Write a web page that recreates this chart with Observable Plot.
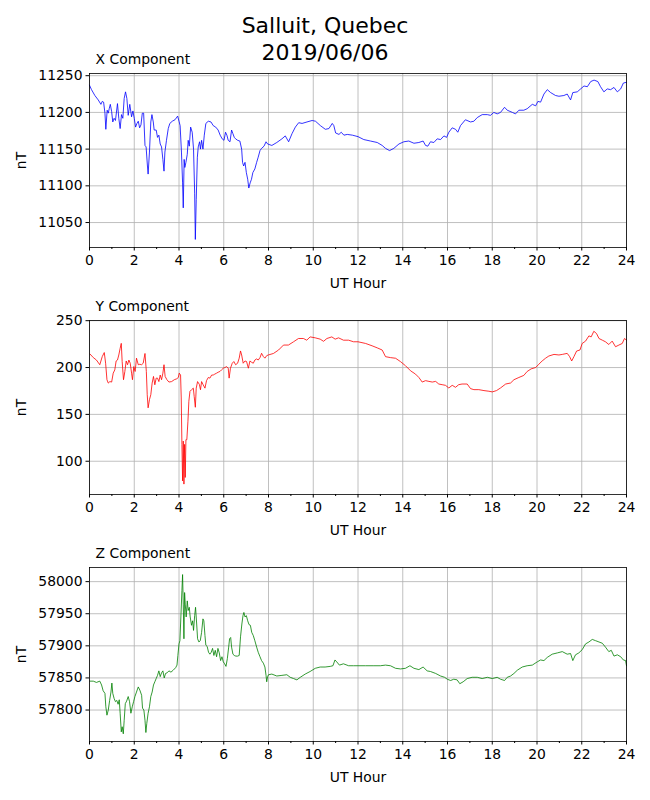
<!DOCTYPE html>
<html><head><meta charset="utf-8">
<script src="https://cdn.jsdelivr.net/npm/d3@7"></script>
<script src="https://cdn.jsdelivr.net/npm/@observablehq/plot@0.6"></script>
<style>
body{margin:0;background:#fff;font-family:"DejaVu Sans",sans-serif;}
#page{position:relative;width:650px;height:800px;background:#fff;}
.title{position:absolute;left:0;width:650px;text-align:center;font-size:22px;line-height:27px;top:12px;color:#000;z-index:5;}
.panel{position:absolute;left:0;}
</style></head><body><div id="page"><div class="title">Salluit, Quebec<br>2019/06/06</div></div>
<script>
const hourTicks = [0,2,4,6,8,10,12,14,16,18,20,22,24];
const minorHourTicks = [1,3,5,7,9,11,13,15,17,19,21,23];
const panelNames = ["X Component","Y Component","Z Component"];
const xTicksNT = [11050,11100,11150,11200,11250];
const yTicksNT = [100,150,200,250];
const zTicksNT = [57800,57850,57900,57950,58000];

// [UT hour, nT]
const xComponent = [[0,11237],[0.09,11231],[0.24,11223],[0.39,11217],[0.51,11211],[0.57,11215],[0.63,11214],[0.69,11199],[0.73,11177],[0.79,11203],[0.84,11199],[0.88,11205],[0.93,11211],[0.99,11201],[1.04,11187],[1.10,11192],[1.16,11189],[1.25,11212],[1.31,11192],[1.37,11178],[1.43,11197],[1.49,11192],[1.55,11219],[1.61,11228],[1.67,11219],[1.73,11196],[1.80,11211],[1.88,11194],[1.94,11202],[2.0,11192],[2.06,11180],[2.12,11185],[2.18,11188],[2.24,11179],[2.30,11183],[2.36,11199],[2.42,11199],[2.48,11155],[2.53,11153],[2.59,11127],[2.62,11116],[2.68,11146],[2.74,11187],[2.79,11197],[2.85,11187],[2.89,11176],[2.98,11176],[3.04,11166],[3.10,11169],[3.16,11157],[3.22,11153],[3.28,11136],[3.33,11120],[3.37,11146],[3.44,11162],[3.52,11178],[3.59,11185],[3.70,11188],[3.82,11190],[3.94,11195],[4.0,11188],[4.05,11182],[4.11,11146],[4.16,11104],[4.19,11070],[4.23,11136],[4.26,11125],[4.31,11132],[4.37,11143],[4.41,11162],[4.46,11154],[4.52,11180],[4.59,11173],[4.65,11150],[4.70,11090],[4.73,11027],[4.77,11081],[4.82,11139],[4.86,11153],[4.92,11160],[4.96,11150],[5.01,11162],[5.07,11150],[5.13,11169],[5.20,11185],[5.31,11188],[5.43,11187],[5.53,11182],[5.64,11180],[5.75,11176],[5.84,11169],[5.93,11164],[6.01,11162],[6.08,11173],[6.14,11169],[6.20,11162],[6.28,11160],[6.35,11176],[6.41,11171],[6.47,11166],[6.53,11164],[6.62,11162],[6.72,11161],[6.80,11150],[6.84,11132],[6.89,11127],[6.95,11132],[7.01,11118],[7.07,11109],[7.12,11097],[7.18,11104],[7.24,11109],[7.30,11118],[7.39,11123],[7.47,11132],[7.54,11139],[7.62,11148],[7.69,11151],[7.80,11154],[7.89,11160],[7.96,11157],[8.15,11155],[8.37,11159],[8.6,11164],[8.75,11168],[8.9,11160],[9.05,11171],[9.2,11180],[9.35,11186],[9.5,11185],[9.72,11187],[9.95,11189],[10.1,11188],[10.32,11182],[10.54,11177],[10.7,11178],[10.85,11185],[10.92,11182],[11.0,11172],[11.15,11170],[11.25,11173],[11.37,11169],[11.52,11170],[11.75,11169],[12.0,11167],[12.26,11163],[12.56,11161],[12.86,11159],[13.08,11155],[13.23,11151],[13.41,11148],[13.6,11151],[13.83,11157],[14.05,11160],[14.27,11161],[14.5,11158],[14.72,11159],[14.91,11161],[15.02,11155],[15.12,11154],[15.24,11160],[15.39,11159],[15.54,11164],[15.69,11163],[15.84,11168],[15.96,11166],[16.06,11173],[16.21,11179],[16.36,11177],[16.46,11173],[16.58,11182],[16.8,11190],[17.03,11187],[17.18,11188],[17.33,11193],[17.55,11197],[17.78,11197],[17.92,11196],[18.07,11200],[18.22,11198],[18.37,11200],[18.55,11207],[18.67,11203],[18.9,11200],[19.04,11198],[19.19,11203],[19.41,11203],[19.56,11205],[19.79,11211],[19.94,11209],[20.04,11215],[20.16,11214],[20.31,11225],[20.46,11231],[20.61,11227],[20.83,11223],[20.98,11222],[21.2,11223],[21.35,11225],[21.5,11217],[21.6,11227],[21.8,11228],[21.95,11232],[22.1,11236],[22.25,11235],[22.4,11242],[22.55,11244],[22.72,11242],[22.84,11235],[22.99,11228],[23.14,11232],[23.29,11231],[23.44,11234],[23.59,11228],[23.74,11232],[23.86,11240],[24.0,11241]];

const yComponent = [[0.02,214.5],[0.17,210.6],[0.31,208],[0.46,203],[0.57,211.7],[0.66,216],[0.72,204.6],[0.78,187],[0.84,183.4],[0.91,185],[0.99,184.5],[1.06,194],[1.13,197.5],[1.19,207],[1.25,208],[1.31,213.4],[1.37,220.5],[1.42,225.8],[1.46,206.4],[1.52,187],[1.58,195.8],[1.64,207],[1.70,203],[1.76,208],[1.82,204.6],[1.88,194],[1.92,187],[1.98,201],[2.04,195.8],[2.10,210],[2.18,203],[2.25,203.5],[2.33,203],[2.40,204.6],[2.48,215],[2.54,195.8],[2.58,171],[2.62,157],[2.68,165.7],[2.74,171],[2.80,183.4],[2.86,190.5],[2.92,181.6],[2.98,188.7],[3.04,188.7],[3.10,185],[3.16,192],[3.22,187],[3.28,194],[3.33,203],[3.38,190.5],[3.46,187],[3.55,184.5],[3.67,185],[3.79,187],[3.90,188],[3.97,189.4],[4.01,194],[4.07,192],[4.10,167.5],[4.13,118],[4.16,79],[4.19,121.5],[4.22,75.6],[4.25,118],[4.28,82.7],[4.31,123],[4.35,123],[4.40,142.7],[4.44,164],[4.49,174.6],[4.56,176.3],[4.64,178],[4.68,169],[4.73,157.6],[4.77,178],[4.83,185],[4.91,182],[4.96,176.3],[5.01,185],[5.08,181.6],[5.16,178],[5.23,186],[5.31,189.4],[5.38,188.7],[5.46,192],[5.53,192],[5.60,193],[5.68,194],[5.75,195],[5.83,195.8],[5.90,197.5],[5.98,199.3],[6.05,200],[6.13,201],[6.20,199.3],[6.24,188.7],[6.30,199.3],[6.38,204.6],[6.45,206.4],[6.53,203],[6.62,204.6],[6.69,210],[6.75,217.7],[6.80,213.4],[6.87,204.6],[6.95,207],[7.02,206.4],[7.10,199.3],[7.17,207],[7.24,205.7],[7.32,204.6],[7.39,208],[7.47,209.2],[7.54,208],[7.62,210.6],[7.69,215.2],[7.77,211.7],[7.84,210],[7.92,212.7],[7.99,213.4],[8.22,215],[8.45,218.7],[8.67,224],[8.89,224],[9.12,227.5],[9.34,231],[9.56,231],[9.71,229.2],[9.86,232.7],[10.09,231.7],[10.31,230.3],[10.46,228],[10.61,231],[10.83,232.7],[10.98,230.3],[11.13,231.7],[11.35,229.2],[11.58,229.2],[11.8,227.5],[12.0,227.5],[12.34,225.7],[12.63,223.2],[12.86,221],[13.08,218.7],[13.23,211.6],[13.45,210.6],[13.68,209.9],[13.9,206.3],[14.12,202],[14.35,196.5],[14.57,193],[14.72,189.4],[14.87,184.5],[15.02,186],[15.17,185.2],[15.32,184.5],[15.47,185.2],[15.61,182.4],[15.76,181.7],[15.91,181],[16.06,178.2],[16.21,181],[16.36,178.9],[16.5,181.7],[16.65,182.4],[16.88,182.4],[17.03,177.5],[17.18,176.4],[17.4,176.4],[17.63,175.4],[17.85,174.7],[18.0,174],[18.19,175.4],[18.37,178.2],[18.6,182.4],[18.82,183.5],[18.97,187],[19.19,189.4],[19.41,191.6],[19.56,195.8],[19.74,198.6],[19.94,200],[20.08,203.5],[20.23,207],[20.38,209.9],[20.53,212.3],[20.76,214],[20.98,213.4],[21.13,214],[21.35,215.1],[21.46,211.6],[21.55,207],[21.65,211.6],[21.77,217.6],[21.92,218.7],[22.02,225.7],[22.17,228.2],[22.32,233.8],[22.42,232.7],[22.54,238.7],[22.66,236.3],[22.77,231],[22.92,229.2],[23.06,227.5],[23.21,224.6],[23.36,228.2],[23.51,222.2],[23.66,224],[23.81,225.7],[23.91,231],[24.0,229.2]];

const zComponent = [[0.02,57845],[0.17,57845],[0.31,57843],[0.46,57845],[0.54,57839],[0.61,57830],[0.69,57826],[0.73,57805],[0.78,57792],[0.84,57800],[0.90,57815],[0.96,57828],[1.0,57842],[1.04,57826],[1.10,57818],[1.16,57813],[1.22,57815],[1.28,57809],[1.33,57816],[1.37,57795],[1.42,57766],[1.46,57774],[1.51,57763],[1.55,57784],[1.60,57810],[1.66,57814],[1.73,57821],[1.79,57813],[1.85,57795],[1.91,57805],[1.97,57813],[2.03,57821],[2.10,57828],[2.18,57836],[2.25,57831],[2.33,57823],[2.37,57803],[2.43,57800],[2.48,57784],[2.52,57765],[2.56,57779],[2.62,57795],[2.68,57805],[2.74,57821],[2.80,57828],[2.86,57839],[2.92,57844],[2.98,57849],[3.04,57854],[3.10,57861],[3.16,57852],[3.22,57858],[3.28,57861],[3.34,57850],[3.40,57857],[3.47,57858],[3.55,57861],[3.64,57859],[3.74,57862],[3.85,57866],[3.91,57870],[3.95,57885],[4.0,57903],[4.04,57908],[4.09,57950],[4.13,57986],[4.16,58011],[4.19,57965],[4.22,57911],[4.25,57983],[4.28,57965],[4.32,57945],[4.37,57970],[4.41,57955],[4.46,57960],[4.50,57945],[4.56,57932],[4.61,57939],[4.65,57924],[4.70,57947],[4.74,57960],[4.79,57934],[4.83,57911],[4.89,57906],[4.95,57908],[5.01,57921],[5.07,57942],[5.11,57939],[5.16,57916],[5.20,57901],[5.26,57899],[5.32,57890],[5.38,57887],[5.44,57890],[5.50,57896],[5.56,57885],[5.62,57893],[5.68,57883],[5.74,57896],[5.80,57889],[5.86,57877],[5.92,57883],[5.98,57875],[6.04,57872],[6.10,57868],[6.16,57880],[6.22,57898],[6.26,57911],[6.31,57913],[6.35,57898],[6.41,57887],[6.47,57885],[6.54,57884],[6.62,57884],[6.69,57885],[6.75,57914],[6.81,57934],[6.86,57947],[6.90,57952],[6.95,57945],[7.01,57947],[7.07,57939],[7.13,57933],[7.19,57932],[7.25,57921],[7.32,57916],[7.39,57908],[7.47,57898],[7.54,57890],[7.62,57883],[7.69,57877],[7.77,57873],[7.84,57867],[7.89,57854],[7.92,57844],[7.96,57852],[8.0,57855],[8.15,57856],[8.37,57853],[8.6,57854],[8.82,57855],[8.97,57851],[9.12,57849],[9.27,57847],[9.42,57851],[9.64,57856],[9.86,57860],[10.09,57865],[10.31,57867],[10.53,57867],[10.76,57868],[10.88,57869],[10.97,57878],[11.05,57875],[11.17,57870],[11.35,57872],[11.58,57869],[11.8,57869],[12.0,57869],[12.34,57869],[12.71,57869],[13.0,57869],[13.23,57870],[13.45,57869],[13.68,57865],[13.9,57864],[14.12,57865],[14.32,57869],[14.5,57865],[14.72,57863],[14.91,57867],[15.09,57861],[15.24,57860],[15.47,57857],[15.69,57853],[15.87,57851],[15.99,57848],[16.14,57846],[16.28,57848],[16.43,57847],[16.55,57841],[16.7,57844],[16.88,57849],[17.1,57851],[17.33,57851],[17.55,57849],[17.78,57851],[18.0,57849],[18.22,57851],[18.37,57848],[18.55,57846],[18.67,57851],[18.82,57853],[18.97,57857],[19.12,57862],[19.34,57867],[19.56,57869],[19.79,57870],[20.01,57875],[20.16,57878],[20.31,57877],[20.46,57882],[20.68,57887],[20.91,57889],[21.13,57891],[21.35,57887],[21.5,57888],[21.6,57877],[21.72,57886],[21.87,57889],[22.02,57894],[22.17,57903],[22.32,57906],[22.47,57910],[22.62,57908],[22.77,57906],[22.92,57904],[23.06,57898],[23.21,57891],[23.32,57893],[23.44,57884],[23.59,57886],[23.74,57883],[23.86,57878],[23.96,57877],[24.0,57869]];

const FS = 13.9;
const intFormat = d3.format("d");
function panel(data, color, domain, yTicks, name, top) {
  const chart = Plot.plot({
    width: 650, height: 264, marginLeft: 89, marginRight: 24, marginTop: 40, marginBottom: 50,
    style: {fontFamily: "DejaVu Sans", fontSize: FS + "px", color: "black", background: "transparent", overflow: "visible"},
    x: {domain: [0, 24]},
    y: {domain},
    marks: [
      Plot.gridX(hourTicks, {stroke: "#b0b0b0", strokeOpacity: 1, strokeWidth: 0.8}),
      Plot.gridY(yTicks, {stroke: "#b0b0b0", strokeOpacity: 1, strokeWidth: 0.8}),
      Plot.line(data, {x: d => d[0], y: d => d[1], stroke: color, strokeWidth: 0.8}),
      Plot.frame({stroke: "black", strokeWidth: 0.8}),
      Plot.axisX(hourTicks, {tickSize: 3.5, tickPadding: 4, label: null, fontSize: FS, tickFormat: intFormat}),
      Plot.axisX(minorHourTicks, {tickSize: 2, tickFormat: () => "", label: null, fontSize: FS}),
      Plot.axisY(yTicks, {tickSize: 3.5, tickPadding: 3.5, label: null, fontSize: FS, tickFormat: intFormat}),
      Plot.text(["UT Hour"], {frameAnchor: "bottom", dy: 36, lineAnchor: "middle", textAnchor: "middle", fontSize: FS}),
      Plot.text(["nT"], {frameAnchor: "left", dx: -68, rotate: -90, lineAnchor: "middle", textAnchor: "middle", fontSize: FS}),
      Plot.text([name], {frameAnchor: "top-left", dx: 6, dy: -14, lineAnchor: "middle", textAnchor: "start", fontSize: FS})
    ]
  });
  chart.classList.add("panel");
  chart.style.position = "absolute";
  chart.style.top = top + "px";
  chart.style.left = "0px";
  document.getElementById("page").appendChild(chart);
}
panel(xComponent, "blue", [11016, 11253], xTicksNT, panelNames[0], 33);
panel(yComponent, "red", [64.5, 250.2], yTicksNT, panelNames[1], 280);
panel(zComponent, "green", [57751, 58022], zTicksNT, panelNames[2], 527);
</script></body></html>
